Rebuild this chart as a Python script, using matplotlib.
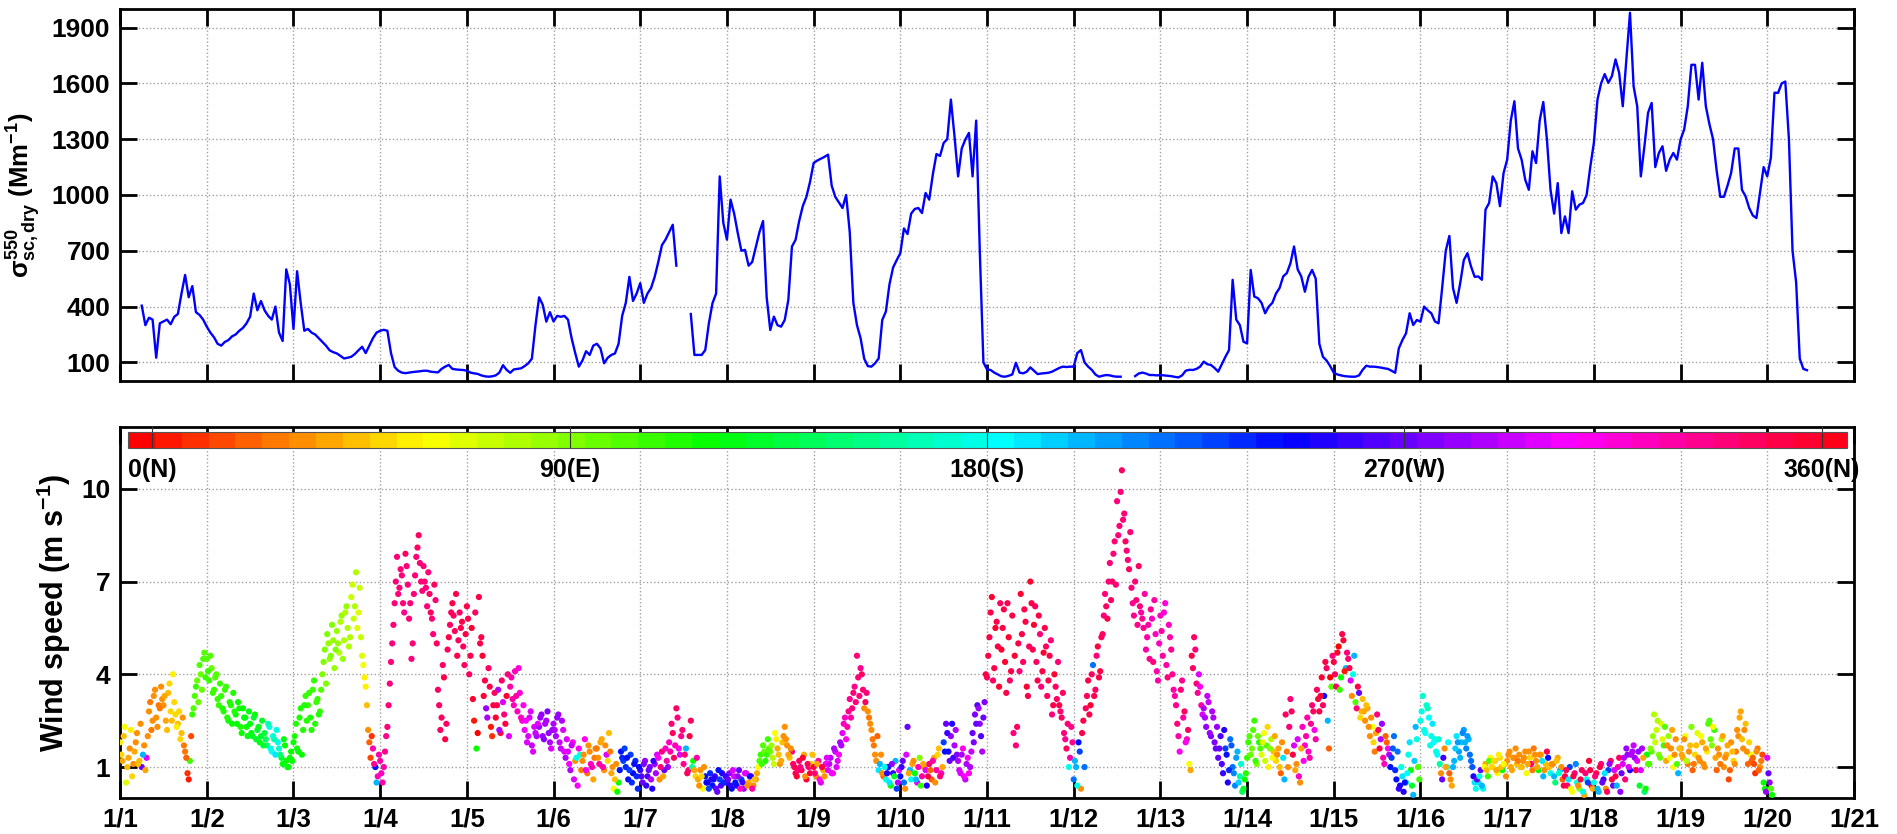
import numpy as np
import matplotlib.pyplot as plt
from matplotlib import colors, cm

# Fonts: bold Arial-like everywhere, mathtext in the same bold face
plt.rcParams['font.family'] = 'Liberation Sans'
plt.rcParams['font.weight'] = 'bold'
plt.rcParams['mathtext.fontset'] = 'custom'
plt.rcParams['mathtext.rm'] = 'Liberation Sans:bold'
plt.rcParams['mathtext.it'] = 'Liberation Sans:bold'
plt.rcParams['mathtext.bf'] = 'Liberation Sans:bold'

nan = np.nan

# x tick labels (one per day, 1/1 .. 1/21)
day_labels = ['1/%d' % d for d in range(1, 22)]

# Hourly dry scattering coefficient at 550 nm (Mm-1), starting 1/1 00:00
sigma_1_01 = [nan, nan, nan, nan, nan, nan, 405, 300, 340, 330, 125, 310, 320, 330, 305, 345, 360, 470, 570, 450, 510, 370, 355, 330]
sigma_1_02 = [292, 260, 235, 200, 190, 210, 220, 240, 250, 270, 285, 310, 346, 470, 380, 430, 380, 350, 330, 400, 260, 215, 600, 520]
sigma_1_03 = [280, 590, 420, 270, 280, 260, 250, 230, 210, 190, 165, 155, 148, 135, 121, 125, 130, 145, 165, 184, 150, 190, 230, 260]
sigma_1_04 = [270, 275, 270, 150, 75, 55, 45, 42, 45, 48, 50, 52, 55, 55, 50, 48, 46, 65, 77, 86, 65, 62, 60, 59]
sigma_1_05 = [55, 45, 41, 38, 30, 25, 23, 25, 30, 45, 85, 60, 44, 62, 65, 68, 80, 95, 120, 300, 450, 410, 319, 370]
sigma_1_06 = [320, 350, 345, 350, 330, 230, 150, 77, 110, 160, 140, 190, 200, 175, 95, 125, 140, 148, 200, 350, 420, 560, 430, 470]
sigma_1_07 = [526, 420, 470, 500, 560, 640, 730, 760, 800, 840, 620, nan, nan, nan, 360, 140, 140, 140, 166, 310, 418, 470, 1100, 850]
sigma_1_08 = [760, 975, 900, 795, 700, 705, 620, 640, 720, 800, 860, 450, 274, 346, 300, 292, 328, 436, 723, 759, 860, 940, 990, 1070]
sigma_1_09 = [1172, 1185, 1195, 1205, 1217, 1050, 990, 960, 930, 1000, 800, 420, 300, 230, 120, 80, 77, 95, 121, 328, 373, 520, 610, 650]
sigma_1_10 = [687, 820, 790, 900, 925, 930, 903, 1011, 975, 1110, 1220, 1210, 1280, 1300, 1513, 1316, 1100, 1250, 1298, 1334, 1100, 1400, 700, 100]
sigma_1_11 = [62, 59, 45, 35, 25, 23, 28, 35, 98, 45, 41, 50, 73, 55, 37, 40, 42, 44, 50, 60, 70, 77, 75, 77]
sigma_1_12 = [77, 150, 166, 100, 77, 60, 35, 23, 28, 32, 30, 25, 23, 23, nan, nan, nan, 26, 40, 45, 40, 32, 32, 30]
sigma_1_13 = [32, 30, 28, 26, 22, 19, 30, 55, 60, 59, 65, 77, 104, 90, 86, 70, 50, 90, 130, 166, 544, 330, 300, 211]
sigma_1_14 = [202, 597, 454, 445, 420, 364, 400, 420, 470, 500, 562, 580, 633, 723, 600, 562, 480, 560, 597, 550, 200, 130, 110, 80]
sigma_1_15 = [44, 35, 30, 26, 24, 23, 23, 30, 60, 82, 77, 77, 75, 72, 68, 65, 55, 44, 175, 220, 256, 364, 301, 328]
sigma_1_16 = [319, 400, 380, 364, 320, 310, 500, 700, 780, 500, 420, 526, 650, 687, 615, 560, 562, 544, 921, 957, 1100, 1064, 940, 1118]
sigma_1_17 = [1190, 1400, 1504, 1250, 1190, 1082, 1028, 1235, 1172, 1400, 1500, 1300, 1028, 900, 1064, 795, 885, 795, 1020, 921, 948, 957, 1000, 1150]
sigma_1_18 = [1280, 1513, 1600, 1650, 1603, 1639, 1729, 1657, 1477, 1729, 1980, 1585, 1477, 1100, 1262, 1442, 1495, 1150, 1226, 1262, 1130, 1190, 1226, 1190]
sigma_1_19 = [1298, 1352, 1477, 1700, 1700, 1513, 1711, 1477, 1380, 1300, 1130, 990, 990, 1050, 1118, 1250, 1250, 1028, 993, 930, 890, 876, 1011, 1150]
sigma_1_20 = [1100, 1200, 1550, 1549, 1600, 1610, 1300, 700, 530, 120, 65, 58]

sigma_sc = (sigma_1_01 + sigma_1_02 + sigma_1_03 + sigma_1_04 + sigma_1_05 + sigma_1_06 + sigma_1_07
            + sigma_1_08 + sigma_1_09 + sigma_1_10 + sigma_1_11 + sigma_1_12 + sigma_1_13 + sigma_1_14
            + sigma_1_15 + sigma_1_16 + sigma_1_17 + sigma_1_18 + sigma_1_19 + sigma_1_20)
t_sigma = np.arange(len(sigma_sc)) / 24.0

# Wind speed (m/s) and direction (deg), readings on the hour and every 40 min (:00, :40, :20 ...)
wind_speed = [
    # 1/1
    1.8, 1.2, 2.3, 1.0, 1.6, 0.7, 1.5, 2.1, 1.2, 1.0, 1.7, 1.3, 2.8, 2.2, 3.3, 2.6, 3.0, 3.6,
    3.0, 2.5, 3.4, 2.8, 4.0, 2.7, 2.4, 1.9, 2.6, 1.5, 0.8, 1.2, 2.7, 3.3, 3.8, 4.3, 3.5, 4.7,
    # 1/2
    4.5, 3.8, 4.2, 3.5, 4.0, 3.0, 3.3, 2.8, 3.6, 2.5, 3.0, 3.4, 2.7, 3.1, 2.3, 2.9, 2.6, 2.0,
    2.4, 2.0, 2.7, 2.2, 1.8, 2.5, 2.1, 1.7, 2.3, 1.5, 1.9, 2.2, 1.6, 1.3, 1.9, 1.2, 1.0, 1.5,
    # 1/3
    1.8, 2.4, 1.5, 2.9, 2.2, 3.3, 3.0, 2.6, 3.5, 2.4, 3.2, 2.8, 4.0, 4.8, 5.3, 4.5, 5.6, 4.2,
    5.4, 4.7, 5.9, 5.1, 6.2, 4.9, 6.5, 5.8, 7.3, 6.0, 5.2, 4.3, 3.6, 2.2, 1.3, 1.6, 1.0, 0.7,
    # 1/4
    1.2, 0.5, 1.5, 2.3, 3.7, 5.0, 6.3, 7.8, 6.8, 7.2, 6.0, 7.5, 5.8, 4.5, 6.6, 7.8, 8.5, 7.0,
    7.5, 6.8, 7.3, 6.0, 5.3, 6.4, 3.5, 2.2, 4.3, 1.9, 4.8, 5.6, 6.3, 5.4, 4.6, 6.0, 5.7, 4.3,
    # 1/5
    6.2, 4.0, 5.5, 2.5, 1.6, 6.5, 5.2, 3.3, 2.9, 4.2, 2.3, 3.0, 2.6, 3.5, 2.1, 3.1, 2.4, 4.0,
    3.6, 3.2, 4.1, 2.8, 3.4, 2.5, 2.2, 1.8, 2.6, 1.7, 2.3, 2.0, 2.3, 2.7, 1.9, 2.5, 2.1, 1.6,
    # 1/6
    2.4, 2.0, 2.7, 1.6, 2.2, 1.3, 1.5, 0.9, 1.8, 1.2, 0.4, 1.4, 1.2, 1.9, 0.8, 1.5, 1.0, 1.3,
    1.6, 1.1, 1.9, 0.9, 1.4, 2.1, 0.8, 0.3, 1.1, 0.5, 1.5, 1.2, 1.0, 0.6, 1.4, 0.8, 1.2, 0.3,
    # 1/7
    0.9, 0.5, 1.2, 0.7, 1.0, 0.3, 1.1, 1.4, 0.6, 1.5, 0.9, 1.2, 1.8, 2.4, 1.3, 2.9, 1.6, 2.0,
    1.1, 1.6, 0.9, 2.5, 1.2, 0.7, 0.6, 0.9, 0.3, 0.7, 0.5, 0.8, 0.4, 0.7, 0.2, 0.6, 0.8, 0.5,
    # 1/8
    0.5, 0.8, 0.3, 0.7, 0.4, 0.9, 0.6, 0.3, 0.8, 0.5, 0.7, 0.4, 0.6, 1.0, 1.4, 1.7, 1.2, 1.9,
    1.5, 1.3, 2.1, 1.6, 1.1, 1.8, 2.3, 1.7, 1.3, 1.5, 1.0, 0.7, 1.2, 0.9, 1.4, 0.6, 1.0, 1.1,
    # 1/9
    1.0, 0.7, 1.2, 0.5, 0.9, 1.1, 0.9, 1.3, 0.8, 1.5, 1.2, 1.8, 2.1, 2.6, 2.3, 3.2, 2.9, 3.6,
    4.6, 3.3, 4.0, 2.9, 3.4, 2.6, 2.2, 1.7, 1.2, 0.9, 1.4, 0.7, 0.6, 1.0, 0.4, 0.8, 1.2, 0.5,
    # 1/10
    0.7, 1.2, 0.3, 2.3, 0.9, 1.1, 0.8, 0.5, 1.3, 0.7, 1.0, 0.4, 1.1, 0.6, 1.3, 0.9, 1.6, 0.8,
    1.8, 2.4, 1.5, 2.0, 1.3, 2.2, 1.2, 0.8, 1.6, 0.6, 1.3, 1.0, 2.1, 2.7, 3.0, 2.4, 1.5, 3.1,
    # 1/11
    3.9, 5.2, 6.5, 4.2, 5.7, 3.6, 4.8, 6.1, 3.4, 5.2, 4.1, 2.1, 1.7, 5.0, 6.6, 4.4, 5.7, 3.3,
    7.0, 4.8, 6.2, 3.8, 5.3, 4.1, 5.5, 3.3, 4.6, 2.7, 4.0, 3.2, 3.0, 2.6, 2.1, 1.6, 1.0, 2.3,
    # 1/12
    0.6, 1.0, 1.8, 0.3, 2.5, 2.9, 3.8, 3.0, 4.3, 3.5, 4.9, 4.1, 5.3, 6.6, 5.8, 7.6, 7.0, 8.3,
    9.6, 8.8, 10.6, 9.2, 8.0, 7.4, 6.8, 5.9, 6.4, 7.5, 6.0, 5.5, 4.8, 5.6, 6.1, 4.4, 5.3, 3.8,
    # 1/13
    5.9, 4.6, 6.3, 3.9, 5.2, 4.0, 3.3, 2.4, 1.5, 3.8, 2.8, 1.9, 1.1, 4.6, 5.2, 3.7, 4.0, 3.0,
    2.9, 2.3, 3.1, 2.0, 2.6, 1.6, 1.3, 2.0, 0.8, 1.6, 0.5, 1.9, 1.0, 0.4, 1.5, 0.7, 0.2, 0.6,
    # 1/14
    1.3, 2.0, 1.6, 2.5, 1.1, 1.8, 1.4, 2.1, 1.7, 1.0, 1.9, 1.5, 1.2, 1.6, 0.8, 1.3, 2.7, 1.0,
    3.2, 1.4, 0.9, 1.9, 0.5, 2.3, 1.7, 2.6, 1.3, 3.0, 2.2, 3.5, 2.8, 3.9, 3.3, 4.2, 1.6, 3.6,
    # 1/15
    4.4, 3.6, 4.9, 3.9, 5.1, 4.2, 4.5, 3.8, 4.0, 3.1, 3.6, 2.6, 3.2, 2.5, 2.9, 2.0, 2.3, 1.5,
    2.7, 1.6, 2.4, 1.1, 1.8, 1.4, 1.3, 2.0, 0.6, 0.3, 1.0, 0.2, 0.5, 1.4, 0.9, 0.1, 2.3, 1.0,
    # 1/16
    2.5, 3.3, 2.1, 2.9, 1.7, 2.4, 1.9, 1.4, 1.1, 0.6, 1.6, 1.0, 0.8, 0.4, 1.2, 2.0, 1.5, 1.8,
    2.2, 1.6, 1.9, 1.2, 0.7, 0.3, 0.5, 0.9, 0.3, 1.1, 0.7, 1.3, 1.0, 1.2, 0.8, 1.3, 0.9, 1.1,
    # 1/17
    1.2, 1.5, 0.9, 1.3, 1.1, 1.4, 1.0, 1.3, 0.8, 1.5, 1.1, 1.6, 1.2, 0.9, 1.4, 0.7, 1.1, 1.3,
    0.8, 1.1, 0.5, 1.3, 0.9, 0.6, 0.7, 0.4, 1.0, 0.2, 0.8, 0.5, 0.3, 0.9, 0.1, 0.6, 1.2, 0.4,
    # 1/18
    0.5, 0.8, 0.2, 1.1, 0.6, 0.3, 0.9, 1.2, 0.4, 0.7, 1.0, 0.2, 1.1, 0.6, 1.4, 0.9, 1.5, 1.3,
    1.2, 0.4, 1.6, 0.2, 1.4, 1.1, 1.5, 2.7, 2.2, 1.4, 2.4, 1.7, 1.2, 2.0, 1.6, 1.0, 1.9, 0.8,
    # 1/19
    1.6, 1.3, 2.0, 1.1, 1.7, 0.9, 1.4, 2.1, 1.2, 1.8, 1.0, 1.5, 2.5, 1.7, 2.2, 0.9, 1.4, 1.9,
    1.0, 1.4, 0.6, 1.8, 1.2, 1.5, 2.0, 2.8, 1.6, 2.4, 1.1, 1.4, 1.3, 0.8, 1.6, 1.0, 1.4, 0.3,
    # 1/20
    1.3, 0.5, 0.1,
]

wind_dir = [
    # 1/1
    55, 40, 60, 45, 35, 50, 40, 30, 45, 270, 35, 300, 30, 25, 35, 30, 28, 32,
    35, 40, 45, 50, 55, 48, 45, 50, 30, 25, 10, 110, 105, 100, 95, 100, 98, 102,
    # 1/2
    100, 105, 98, 110, 102, 108, 110, 115, 108, 118, 112, 115, 118, 120, 115, 122, 118, 125,
    125, 128, 122, 130, 127, 132, 135, 150, 175, 185, 160, 180, 170, 130, 125, 120, 118, 122,
    # 1/3
    118, 115, 120, 112, 116, 110, 110, 112, 108, 114, 110, 106, 90, 88, 92, 85, 90, 86,
    82, 80, 85, 78, 82, 80, 75, 72, 78, 70, 74, 62, 55, 30, 15, 330, 240, 320,
    # 1/4
    330, 325, 335, 338, 340, 340, 340, 342, 338, 340, 336, 342, 340, 338, 342, 340, 344, 340,
    342, 338, 340, 345, 340, 342, 345, 348, 344, 350, 345, 348, 350, 346, 352, 348, 350, 345,
    # 1/5
    350, 345, 355, 5, 120, 352, 350, 355, 280, 345, 5, 350, 355, 290, 350, 300, 352, 340,
    330, 325, 320, 320, 318, 315, 305, 300, 298, 295, 300, 290, 280, 282, 278, 285, 280, 300,
    # 1/6
    285, 290, 280, 295, 300, 290, 300, 290, 310, 30, 305, 180, 30, 310, 25, 35, 330, 28,
    35, 330, 40, 30, 300, 45, 40, 60, 30, 120, 240, 230, 235, 240, 230, 245, 238, 235,
    # 1/7
    260, 270, 280, 265, 275, 255, 280, 300, 30, 340, 270, 330, 320, 340, 345, 345, 310, 335,
    335, 200, 340, 345, 120, 50, 40, 30, 60, 240, 250, 235, 240, 260, 270, 230, 250, 280,
    # 1/8
    260, 280, 240, 300, 250, 270, 230, 280, 320, 40, 260, 30, 30, 60, 110, 100, 115, 105,
    90, 80, 60, 40, 35, 45, 35, 30, 45, 340, 350, 355, 345, 350, 40, 355, 340, 50,
    # 1/9
    350, 30, 330, 300, 40, 310, 300, 290, 310, 295, 300, 285, 300, 320, 330, 335, 340, 335,
    340, 338, 345, 30, 340, 25, 30, 25, 35, 190, 30, 20, 180, 240, 120, 260, 200, 290,
    # 1/10
    240, 270, 30, 270, 200, 40, 120, 300, 90, 330, 30, 250, 340, 20, 40, 330, 45, 320,
    230, 270, 255, 280, 260, 290, 285, 300, 310, 295, 305, 290, 270, 275, 265, 280, 285, 275,
    # 1/11
    345, 350, 355, 352, 350, 355, 355, 350, 352, 358, 350, 340, 340, 350, 355, 345, 352, 350,
    355, 350, 345, 352, 340, 350, 352, 345, 350, 340, 355, 345, 350, 345, 340, 345, 180, 335,
    # 1/12
    220, 200, 240, 30, 350, 345, 350, 355, 220, 345, 352, 350, 345, 340, 350, 342, 345, 340,
    340, 338, 345, 342, 340, 345, 338, 335, 340, 345, 330, 335, 330, 325, 335, 340, 320, 330,
    # 1/13
    320, 330, 315, 340, 325, 335, 330, 340, 310, 335, 345, 320, 60, 350, 345, 340, 300, 330,
    290, 280, 295, 275, 285, 270, 270, 265, 260, 230, 250, 220, 215, 210, 200, 160, 140, 120,
    # 1/14
    110, 100, 95, 105, 90, 115, 70, 60, 100, 55, 80, 45, 50, 40, 20, 190, 345, 35,
    340, 350, 40, 300, 30, 320, 315, 330, 325, 340, 310, 345, 350, 355, 240, 345, 20, 100,
    # 1/15
    350, 345, 0, 120, 355, 200, 340, 300, 180, 100, 350, 50, 45, 35, 40, 30, 60, 25,
    340, 350, 280, 320, 20, 290, 230, 220, 240, 260, 180, 250, 190, 180, 120, 200, 200, 100,
    # 1/16
    180, 170, 185, 165, 175, 190, 175, 185, 160, 270, 30, 180, 20, 40, 200, 190, 205, 195,
    205, 210, 200, 220, 250, 180, 190, 270, 180, 40, 110, 60, 55, 45, 60, 50, 120, 40,
    # 1/17
    35, 30, 40, 25, 45, 30, 40, 35, 60, 30, 340, 25, 35, 120, 40, 200, 45, 240,
    180, 30, 150, 40, 200, 20, 350, 340, 230, 60, 340, 180, 90, 345, 40, 180, 355, 350,
    # 1/18
    180, 350, 200, 340, 260, 30, 230, 345, 270, 350, 330, 280, 300, 340, 280, 250, 290, 280,
    300, 130, 290, 150, 120, 110, 100, 80, 75, 90, 70, 110, 40, 85, 35, 60, 30, 200,
    # 1/19
    30, 40, 60, 25, 45, 20, 50, 70, 35, 40, 30, 55, 100, 90, 110, 20, 35, 80,
    30, 40, 15, 35, 50, 25, 35, 40, 30, 45, 20, 60, 20, 10, 25, 30, 15, 120,
    # 1/20
    300, 280, 120,
]

# Interleaved readings, 20 min after each of the ones above
wind_speed_b = [
    # 1/1
    1.4, 2.0, 0.5, 1.3, 2.2, 1.1, 1.8, 1.1, 2.4, 1.4, 0.9, 2.0, 3.1, 2.5, 3.5, 2.3, 2.9, 3.2,
    3.3, 2.2, 3.7, 2.5, 3.1, 2.3, 2.8, 2.1, 1.7, 1.3, 0.6, 2.0, 2.9, 3.6, 3.1, 4.0, 4.5, 3.9,
    # 1/2
    4.1, 4.6, 3.4, 3.9, 3.2, 3.7, 2.9, 3.5, 2.6, 3.1, 2.4, 2.8, 2.4, 2.9, 2.1, 2.6, 2.3, 2.8,
    2.1, 2.6, 1.9, 2.3, 2.0, 1.7, 1.9, 2.4, 1.6, 2.0, 1.4, 1.8, 1.4, 1.1, 1.7, 1.0, 1.3, 1.2,
    # 1/3
    2.0, 1.6, 2.6, 1.4, 3.0, 2.5, 3.4, 2.2, 3.8, 3.1, 2.7, 3.5, 4.4, 3.7, 5.0, 4.6, 5.1, 4.8,
    5.0, 5.7, 4.5, 6.0, 5.5, 5.2, 6.9, 6.2, 5.5, 6.8, 4.6, 3.9, 3.0, 1.8, 2.0, 1.1, 0.5, 1.4,
    # 1/4
    0.8, 1.0, 2.0, 3.0, 4.4, 5.6, 7.0, 6.6, 7.4, 6.3, 7.9, 6.9, 6.3, 5.0, 7.2, 8.1, 7.6, 6.7,
    7.0, 6.2, 6.6, 5.8, 6.9, 5.0, 3.0, 2.6, 3.9, 2.4, 5.2, 6.0, 5.9, 6.6, 5.1, 5.5, 4.9, 5.3,
    # 1/5
    5.8, 4.6, 3.2, 6.0, 2.1, 5.0, 4.6, 3.8, 2.6, 3.6, 2.0, 3.4, 3.0, 2.2, 3.8, 2.7, 3.3, 2.0,
    3.9, 3.0, 3.3, 4.2, 2.6, 3.0, 2.5, 2.0, 2.8, 1.5, 2.1, 2.4, 2.6, 2.0, 2.4, 2.8, 1.8, 2.2,
    # 1/6
    2.2, 2.6, 1.8, 2.5, 1.5, 1.9, 1.1, 1.7, 0.6, 1.3, 1.6, 0.9, 1.4, 0.9, 1.7, 1.1, 0.6, 1.6,
    1.3, 1.8, 1.0, 1.7, 1.2, 1.5, 1.0, 0.6, 0.2, 0.9, 1.3, 1.6, 1.3, 0.9, 0.5, 1.1, 0.7, 1.0,
    # 1/7
    0.7, 1.1, 0.4, 0.9, 0.6, 1.2, 0.8, 1.3, 1.0, 0.7, 1.6, 1.0, 1.5, 2.1, 1.7, 2.6, 1.4, 2.2,
    1.4, 0.8, 2.0, 1.0, 0.9, 1.3, 0.4, 0.7, 1.0, 0.5, 0.3, 0.6, 0.6, 0.3, 0.9, 0.4, 0.5, 0.7,
    # 1/8
    0.6, 0.4, 0.9, 0.5, 0.7, 0.3, 0.5, 0.8, 0.4, 0.7, 0.3, 0.6, 0.8, 1.2, 1.1, 1.5, 1.4, 1.6,
    1.7, 1.1, 1.9, 1.4, 1.2, 2.0, 1.9, 1.4, 1.6, 1.1, 0.8, 0.9, 1.0, 1.3, 0.7, 1.1, 0.8, 1.4,
    # 1/9
    0.8, 1.1, 0.6, 1.0, 0.7, 1.3, 1.1, 0.8, 1.6, 1.0, 1.4, 1.7, 2.4, 1.9, 2.8, 2.6, 3.4, 3.1,
    3.9, 4.2, 3.5, 3.1, 2.8, 2.4, 1.9, 1.4, 2.0, 1.1, 0.8, 1.0, 0.8, 0.5, 1.1, 0.7, 0.3, 0.9,
    # 1/10
    1.0, 0.5, 1.4, 0.8, 0.6, 1.2, 0.6, 1.0, 0.4, 1.1, 0.9, 0.7, 0.9, 1.2, 0.5, 1.4, 0.7, 1.0,
    1.5, 2.1, 1.2, 2.4, 1.7, 1.4, 0.9, 1.4, 0.7, 1.1, 0.8, 1.5, 1.8, 2.4, 2.9, 2.0, 2.6, 4.0,
    # 1/11
    4.6, 6.0, 3.8, 5.5, 4.9, 6.3, 5.5, 4.4, 6.3, 3.8, 5.9, 4.6, 2.3, 4.1, 5.3, 6.1, 3.6, 4.9,
    6.3, 5.6, 4.4, 5.9, 3.6, 4.7, 4.9, 3.8, 5.1, 3.0, 3.6, 4.4, 2.8, 3.4, 1.9, 2.4, 1.3, 1.8,
    # 1/12
    1.2, 0.4, 1.5, 2.1, 1.0, 3.3, 2.7, 4.0, 3.3, 4.6, 3.9, 5.2, 5.9, 6.2, 7.0, 6.4, 7.9, 6.9,
    8.5, 9.9, 9.0, 8.3, 7.7, 8.6, 6.3, 7.0, 5.6, 6.2, 5.8, 6.6, 5.2, 4.5, 5.8, 6.4, 4.1, 5.0,
    # 1/13
    5.4, 6.0, 4.3, 5.6, 4.8, 3.5, 3.0, 2.0, 3.5, 2.6, 1.8, 2.2, 0.9, 4.2, 4.8, 3.4, 3.6, 2.7,
    2.6, 3.3, 2.1, 2.8, 1.8, 2.3, 1.6, 1.1, 2.2, 1.4, 0.9, 1.7, 0.8, 1.3, 0.5, 1.1, 0.3, 0.8,
    # 1/14
    1.8, 1.4, 2.2, 1.2, 2.0, 1.6, 1.8, 1.2, 2.3, 1.6, 1.3, 2.0, 1.4, 1.0, 1.8, 0.6, 1.5, 2.3,
    2.8, 1.7, 1.1, 0.7, 1.6, 1.2, 2.0, 1.5, 2.4, 2.8, 1.9, 3.2, 3.3, 3.0, 4.4, 2.5, 3.9, 4.6,
    # 1/15
    4.0, 4.7, 3.5, 5.3, 4.1, 4.7, 4.2, 3.3, 4.6, 2.9, 3.4, 2.8, 2.8, 3.0, 2.3, 2.6, 1.8, 2.1,
    2.2, 1.9, 1.3, 2.0, 1.6, 1.0, 1.6, 0.9, 1.5, 0.4, 0.7, 0.5, 0.8, 1.8, 0.4, 1.2, 1.9, 0.6,
    # 1/16
    2.8, 2.2, 3.0, 2.6, 2.0, 1.8, 1.5, 1.9, 0.8, 1.3, 1.0, 1.8, 0.6, 1.0, 1.6, 1.8, 1.3, 2.1,
    1.8, 2.0, 1.4, 1.0, 0.5, 0.6, 0.7, 0.4, 1.0, 0.9, 1.2, 1.0, 1.2, 0.9, 1.4, 1.0, 1.1, 0.7,
    # 1/17
    1.4, 1.0, 1.3, 1.6, 1.2, 1.0, 1.2, 1.5, 1.1, 1.3, 0.9, 1.4, 1.0, 1.4, 1.2, 0.9, 1.5, 1.0,
    1.1, 0.7, 1.2, 0.8, 1.0, 0.4, 0.9, 0.6, 0.3, 0.7, 1.1, 0.4, 0.6, 0.2, 0.8, 0.5, 0.9, 0.3,
    # 1/18
    0.7, 0.3, 1.0, 0.5, 0.8, 0.2, 1.1, 0.6, 0.9, 0.4, 1.3, 0.8, 1.3, 1.6, 1.0, 1.4, 1.7, 0.9,
    1.5, 0.9, 1.3, 0.3, 1.1, 1.6, 2.0, 1.8, 2.5, 1.3, 1.9, 2.3, 1.7, 1.3, 2.2, 1.4, 1.1, 1.6,
    # 1/19
    1.4, 1.9, 1.2, 1.5, 2.3, 1.1, 1.7, 1.3, 2.0, 1.1, 1.6, 2.4, 1.9, 2.3, 1.3, 1.6, 1.1, 2.0,
    1.3, 1.7, 0.9, 1.5, 1.1, 2.2, 2.6, 1.9, 2.2, 1.5, 1.8, 1.2, 1.1, 1.5, 0.9, 1.2, 0.5, 0.2,
    # 1/20
    0.8, 0.3,
]

wind_dir_b = [
    # 1/1
    50, 45, 70, 40, 55, 30, 35, 45, 30, 200, 40, 35, 28, 32, 30, 35, 25, 30,
    40, 45, 50, 42, 52, 55, 50, 45, 25, 20, 5, 15, 100, 105, 98, 95, 100, 105,
    # 1/2
    105, 100, 108, 104, 110, 106, 112, 110, 116, 114, 118, 112, 120, 118, 122, 124, 120, 126,
    126, 130, 128, 124, 132, 130, 140, 165, 180, 170, 190, 175, 150, 125, 120, 124, 118, 120,
    # 1/3
    116, 118, 114, 120, 112, 115, 108, 112, 110, 106, 112, 104, 92, 90, 86, 88, 85, 88,
    84, 80, 82, 78, 80, 76, 74, 76, 70, 72, 68, 58, 45, 20, 10, 335, 200, 330,
    # 1/4
    320, 330, 335, 340, 338, 342, 340, 338, 342, 340, 344, 338, 342, 340, 338, 344, 340, 342,
    340, 342, 345, 340, 344, 346, 348, 345, 350, 346, 350, 348, 348, 350, 345, 352, 346, 350,
    # 1/5
    352, 350, 355, 348, 0, 350, 355, 352, 290, 350, 10, 345, 350, 285, 345, 340, 355, 300,
    328, 322, 325, 318, 320, 312, 302, 300, 296, 298, 292, 300, 282, 280, 285, 278, 290, 282,
    # 1/6
    288, 282, 292, 285, 298, 300, 305, 295, 300, 180, 310, 25, 35, 305, 30, 320, 40, 25,
    30, 40, 330, 35, 50, 28, 35, 45, 120, 240, 235, 230, 240, 230, 238, 242, 236, 245,
    # 1/7
    265, 275, 258, 270, 285, 260, 290, 310, 340, 40, 320, 280, 330, 345, 320, 340, 300, 340,
    340, 345, 350, 160, 40, 330, 30, 50, 35, 245, 230, 255, 250, 270, 240, 265, 235, 260,
    # 1/8
    270, 250, 300, 240, 280, 320, 260, 300, 35, 250, 330, 45, 40, 100, 105, 95, 110, 100,
    85, 75, 55, 45, 40, 35, 30, 40, 35, 345, 350, 340, 340, 355, 30, 345, 350, 45,
    # 1/9
    340, 40, 310, 350, 30, 300, 295, 305, 290, 300, 310, 290, 320, 310, 335, 330, 338, 340,
    340, 335, 342, 345, 30, 35, 25, 30, 20, 200, 35, 180, 250, 190, 280, 130, 230, 300,
    # 1/10
    260, 220, 300, 40, 180, 30, 200, 320, 110, 40, 300, 350, 20, 330, 35, 50, 340, 40,
    240, 260, 270, 250, 285, 275, 300, 290, 305, 285, 310, 295, 275, 270, 280, 265, 270, 350,
    # 1/11
    350, 352, 348, 355, 350, 345, 352, 355, 350, 345, 350, 355, 345, 340, 352, 350, 355, 345,
    350, 355, 345, 350, 340, 355, 345, 350, 342, 352, 348, 340, 340, 345, 335, 340, 330, 335,
    # 1/12
    200, 180, 230, 350, 220, 345, 350, 345, 352, 340, 350, 345, 342, 345, 340, 348, 342, 338,
    340, 342, 338, 345, 340, 342, 336, 340, 332, 338, 335, 330, 328, 335, 322, 330, 325, 320,
    # 1/13
    325, 318, 330, 322, 335, 328, 335, 325, 340, 330, 310, 345, 40, 345, 340, 335, 310, 300,
    285, 295, 280, 290, 275, 280, 268, 262, 255, 240, 235, 225, 212, 205, 195, 170, 130, 115,
    # 1/14
    105, 95, 100, 110, 95, 100, 65, 75, 50, 90, 60, 40, 35, 45, 30, 200, 25, 340,
    345, 300, 30, 320, 40, 310, 330, 320, 335, 345, 330, 350, 355, 345, 350, 200, 0, 340,
    # 1/15
    345, 355, 110, 350, 5, 340, 350, 30, 200, 340, 270, 45, 40, 45, 35, 30, 50, 40,
    345, 290, 330, 20, 310, 240, 225, 235, 215, 250, 190, 240, 185, 190, 130, 195, 180, 110,
    # 1/16
    175, 180, 170, 185, 178, 182, 180, 170, 30, 260, 40, 185, 30, 200, 195, 205, 200, 210,
    200, 205, 215, 225, 190, 270, 180, 200, 60, 45, 100, 50, 50, 40, 55, 45, 60, 35,
    # 1/17
    30, 40, 35, 30, 25, 45, 35, 30, 40, 50, 25, 35, 40, 30, 190, 35, 350, 45,
    35, 200, 45, 170, 30, 350, 345, 190, 60, 350, 210, 30, 350, 180, 340, 230, 350, 40,
    # 1/18
    340, 200, 350, 270, 190, 345, 280, 350, 300, 200, 345, 270, 290, 280, 300, 285, 295, 350,
    280, 300, 40, 120, 100, 90, 85, 75, 80, 95, 70, 100, 35, 60, 40, 30, 100, 45,
    # 1/19
    40, 35, 80, 30, 90, 25, 45, 35, 60, 30, 40, 100, 95, 60, 40, 30, 25, 40,
    35, 40, 20, 45, 30, 35, 40, 45, 35, 30, 50, 20, 15, 30, 20, 25, 120, 280,
    # 1/20
    270, 100,
]

t_wind = np.arange(len(wind_speed)) / 36.0
t_wind_b = (np.arange(len(wind_speed_b)) + 0.5) / 36.0

dir_ticks = [0, 90, 180, 270, 360]
dir_labels = ['0(N)', '90(E)', '180(S)', '270(W)', '360(N)']

# Create canvas
fig = plt.figure(figsize=(18.97, 8.34), dpi=100)
ax1 = fig.add_axes([0.0633, 0.5432, 0.9140, 0.4460])
ax2 = fig.add_axes([0.0633, 0.0432, 0.9140, 0.4448])

cmap = plt.get_cmap('hsv', 64)
norm = colors.Normalize(vmin=-5.2, vmax=365.4)

# Top panel: scattering coefficient
ax1.plot(t_sigma, sigma_sc, color='#0000ff', linewidth=1.7, zorder=3)
ax1.set_ylim(0, 2000)
ax1.set_yticks([100, 400, 700, 1000, 1300, 1600, 1900])
ax1.set_ylabel(r'$\sigma^{550}_{sc,dry}$ (Mm$^{-1}$)', fontsize=18.5, fontweight='bold', labelpad=6)

# Bottom panel: wind speed coloured by wind direction
ax2.scatter(t_wind, wind_speed, c=wind_dir, cmap=cmap, norm=norm, s=20, linewidths=0, zorder=3)
ax2.scatter(t_wind_b, wind_speed_b, c=wind_dir_b, cmap=cmap, norm=norm, s=20, linewidths=0, zorder=3)
ax2.set_ylim(0, 12)
ax2.set_yticks([1, 4, 7, 10])
ax2.set_ylabel(r'Wind speed (m s$^{-1}$)', fontsize=22, fontweight='bold', labelpad=6)

for ax in (ax1, ax2):
    ax.set_xlim(0, 20)
    ax.set_xticks(np.arange(21))
    ax.set_axisbelow(True)
    ax.grid(True, linestyle=':', color='#a0a0a0', linewidth=1.0)
    ax.tick_params(direction='in', length=12, width=2, top=True, right=True,
                   labelsize=19, pad=7)
    for sp in ax.spines.values():
        sp.set_linewidth(2)

ax1.tick_params(labelbottom=False)
ax2.set_xticklabels(day_labels)
ax2.tick_params(axis='x', labelsize=18.5)
for lab in ax1.get_yticklabels() + ax2.get_yticklabels() + ax2.get_xticklabels():
    lab.set_fontweight('bold')

# Colour bar for wind direction, inside the top of the bottom panel
cax = ax2.inset_axes([0.0046, 0.9434, 0.9913, 0.0431])
sm = cm.ScalarMappable(norm=norm, cmap=cmap)
cb = fig.colorbar(sm, cax=cax, orientation='horizontal', ticks=dir_ticks)
cb.set_ticklabels(dir_labels)
cb.outline.set_edgecolor('#555555')
cb.outline.set_linewidth(0.8)
cax.tick_params(direction='in', length=16, width=0.8, color='#333333', labelsize=18, pad=7)
for lab in cax.get_xticklabels():
    lab.set_fontweight('bold')

plt.savefig('out.png', dpi=100)
plt.close()
